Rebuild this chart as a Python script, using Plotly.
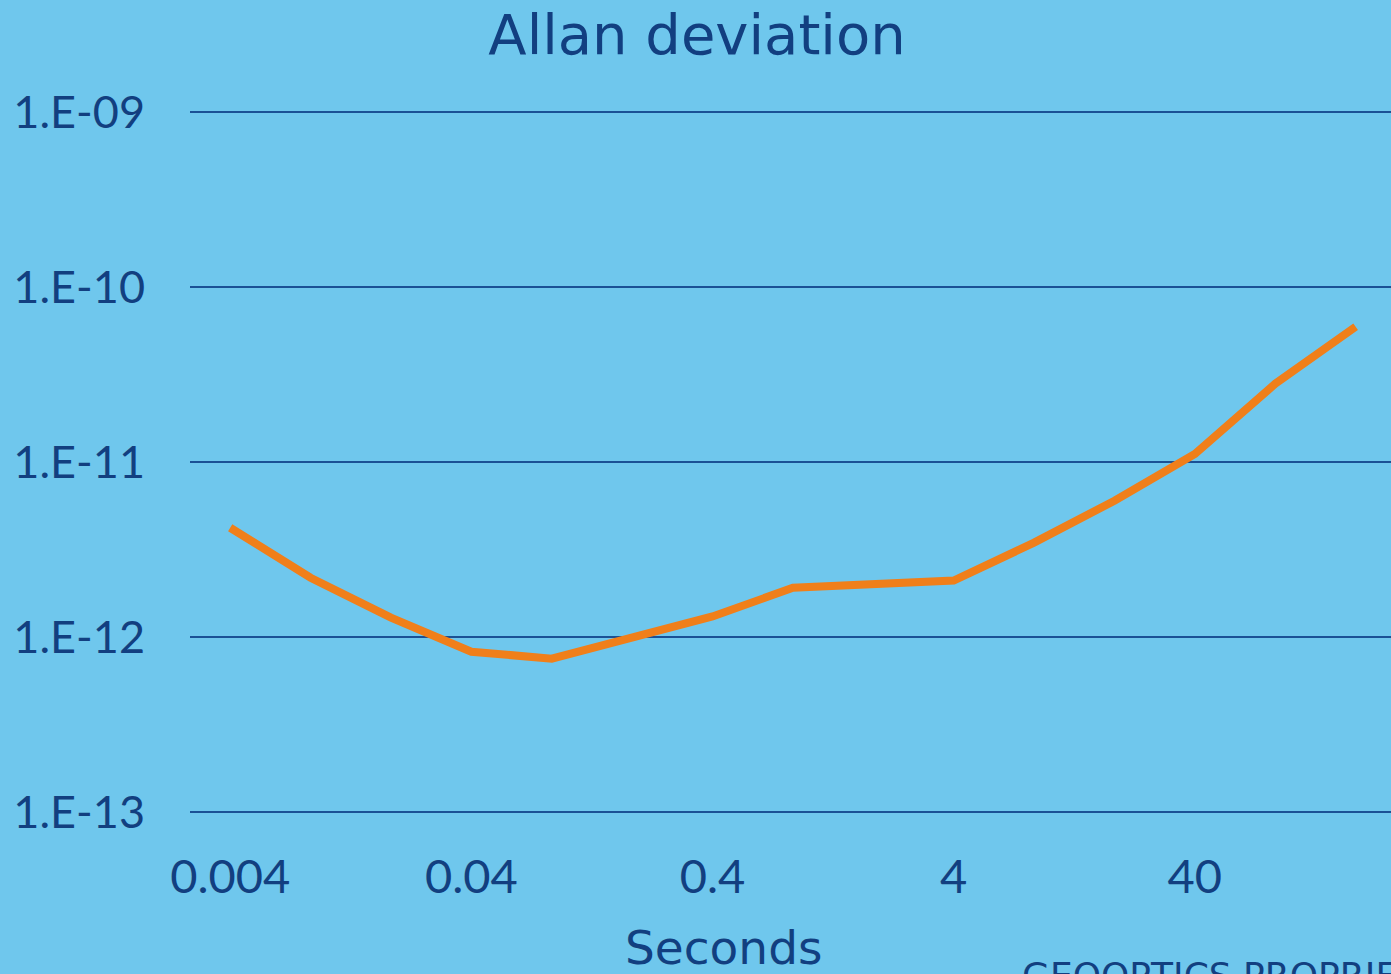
import plotly.graph_objects as go

# Averaging time (s) and Allan deviation values
tau_labels = ["0.004", "0.008", "0.02", "0.04", "0.08", "0.2", "0.4", "0.8",
              "2", "4", "8", "20", "40", "80", "200"]
adev = [4.21e-12, 2.18e-12, 1.29e-12, 8.24e-13, 7.52e-13, 1.00e-12, 1.31e-12,
        1.91e-12, 1.99e-12, 2.10e-12, 3.46e-12, 6.01e-12, 1.11e-11, 2.80e-11,
        5.93e-11]

x_tick_labels = ["0.004", "0.04", "0.4", "4", "40"]
y_tick_vals = [1e-13, 1e-12, 1e-11, 1e-10, 1e-9]
y_tick_text = ["1.E-13", "1.E-12", "1.E-11", "1.E-10", "1.E-09"]

BG = "#6fc7ed"
NAVY = "#123f80"
GRID = "#1a5195"
ORANGE = "#f07f1a"
TICK_FONT = "Century Gothic, Lato, sans-serif"
TITLE_FONT = "Century Gothic, DejaVu Sans, sans-serif"

# plot area spans 110..814 px vertically; pad the log range by 2 px per side
pad = 2 / 175

fig = go.Figure()
fig.add_trace(go.Scatter(
    x=tau_labels, y=adev, mode="lines",
    line=dict(color=ORANGE, width=8),
    hoverinfo="x+y",
))

fig.update_layout(
    width=1391, height=974,
    paper_bgcolor=BG, plot_bgcolor=BG,
    margin=dict(l=190, r=0, t=110, b=160),
    showlegend=False,
    font=dict(family=TICK_FONT, color=NAVY),
    title=dict(text="Allan deviation", x=697 / 1391, xanchor="center",
               y=1 - 34 / 974, yanchor="middle",
               font=dict(size=56, color=NAVY, family=TITLE_FONT)),
    xaxis=dict(
        type="category", categoryorder="array", categoryarray=tau_labels,
        range=[-0.5, 14.44],
        tickmode="array", tickvals=x_tick_labels, ticktext=x_tick_labels,
        showgrid=False, zeroline=False, showline=False, ticks="",
        ticklabelstandoff=31,
        tickfont=dict(size=47, color=NAVY, family=TICK_FONT),
    ),
    yaxis=dict(
        type="log", range=[-13 - pad, -9 + pad],
        tickmode="array", tickvals=y_tick_vals, ticktext=y_tick_text,
        showgrid=True, gridcolor=GRID, gridwidth=2,
        zeroline=False, showline=False, ticks="",
        ticklabelstandoff=44,
        tickfont=dict(size=45, color=NAVY, family=TICK_FONT),
    ),
    annotations=[
        dict(text="Seconds", xref="paper", yref="paper",
             x=(723 - 190) / 1201, y=(814 - 918) / 704,
             xanchor="center", yanchor="top", showarrow=False,
             font=dict(size=47, color=NAVY, family=TITLE_FONT)),
        dict(text="GEOOPTICS PROPRIETARY", xref="paper", yref="paper",
             x=(1020 - 190) / 1201, y=(814 - 953) / 704,
             xanchor="left", yanchor="top", showarrow=False,
             font=dict(size=36, color=NAVY, family=TITLE_FONT)),
    ],
)

fig.write_html("out.html")
